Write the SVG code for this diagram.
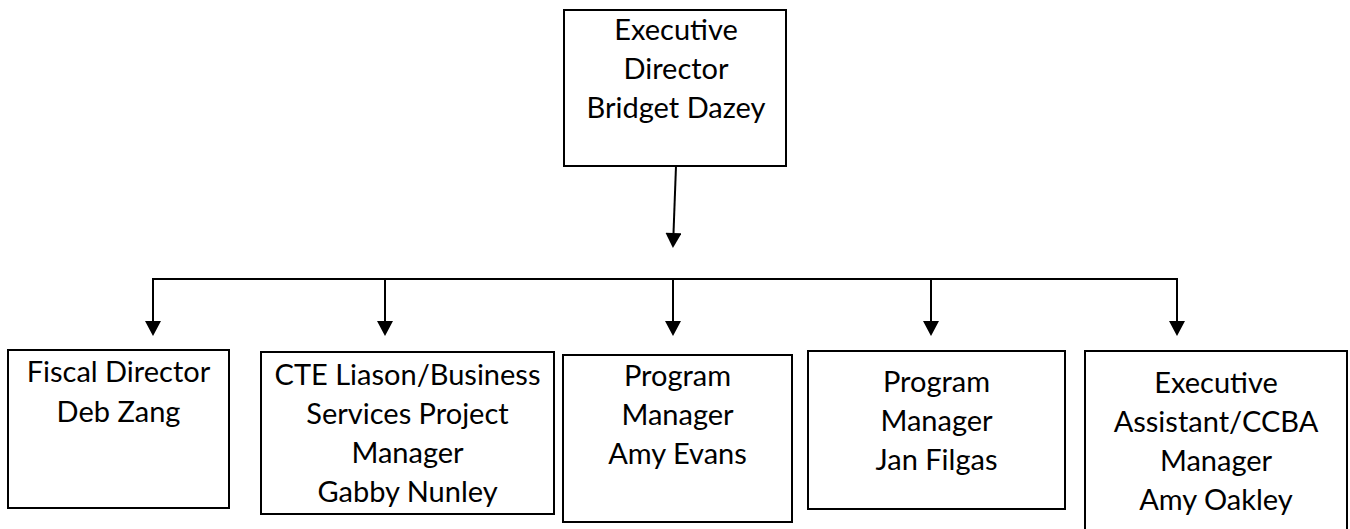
<svg xmlns="http://www.w3.org/2000/svg" width="1350" height="529" viewBox="0 0 1350 529">
<style>
.box{fill:#fff;stroke:#000;stroke-width:2}
.t{font-family:Lato,"Open Sans","Liberation Sans",sans-serif;font-size:29px;fill:#000;text-anchor:middle}
.c{fill:none;stroke:#000;stroke-width:2}
</style>
<defs>
<marker id="ah" markerUnits="userSpaceOnUse" markerWidth="16" markerHeight="16" viewBox="0 0 15 16" refX="0" refY="8" orient="auto">
<path d="M0,0 L15,8 L0,16 z" fill="#000"/>
</marker>
</defs>
<rect width="1350" height="529" fill="#fff"/>
<g id="connectors">
<line class="c" x1="676" y1="166" x2="673.5" y2="233" marker-end="url(#ah)"/>
<polyline class="c" points="153,321 153,279 1177,279 1177,321" marker-end="url(#ah)"/>
<line class="c" x1="153" y1="290" x2="153" y2="321" marker-end="url(#ah)"/>
<line class="c" x1="385" y1="279" x2="385" y2="321" marker-end="url(#ah)"/>
<line class="c" x1="673" y1="279" x2="673" y2="321" marker-end="url(#ah)"/>
<line class="c" x1="931" y1="279" x2="931" y2="321" marker-end="url(#ah)"/>
</g>
<g id="n-executive-director">
<rect class="box" x="564" y="10" width="222" height="156"/>
<text class="t" x="676" y="40">Executive</text>
<text class="t" x="676" y="79">Director</text>
<text class="t" x="676" y="118">Bridget Dazey</text>
</g>
<g id="n-fiscal-director">
<rect class="box" x="8" y="350" width="221" height="158"/>
<text class="t" x="118.5" y="382">Fiscal Director</text>
<text class="t" x="118.5" y="422">Deb Zang</text>
</g>
<g id="n-cte-liason">
<rect class="box" x="261" y="352" width="293" height="162"/>
<text class="t" x="407.5" y="385">CTE Liason/Business</text>
<text class="t" x="407.5" y="424">Services Project</text>
<text class="t" x="407.5" y="463">Manager</text>
<text class="t" x="407.5" y="502">Gabby Nunley</text>
</g>
<g id="n-program-manager-evans">
<rect class="box" x="563" y="355" width="229" height="167"/>
<text class="t" x="677.5" y="386">Program</text>
<text class="t" x="677.5" y="425">Manager</text>
<text class="t" x="677.5" y="464">Amy Evans</text>
</g>
<g id="n-program-manager-filgas">
<rect class="box" x="808" y="351" width="257" height="158"/>
<text class="t" x="936.5" y="392">Program</text>
<text class="t" x="936.5" y="431">Manager</text>
<text class="t" x="936.5" y="470">Jan Filgas</text>
</g>
<g id="n-executive-assistant">
<rect class="box" x="1085" y="351" width="262" height="190"/>
<text class="t" x="1216" y="393">Executive</text>
<text class="t" x="1216" y="432">Assistant/CCBA</text>
<text class="t" x="1216" y="471">Manager</text>
<text class="t" x="1216" y="510">Amy Oakley</text>
</g>
</svg>
